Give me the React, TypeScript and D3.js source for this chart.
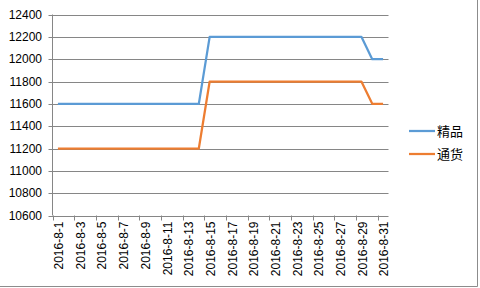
import React from "react";
import * as d3 from "d3";

const dates: string[] = Array.from({ length: 31 }, (_, i) => `2016-8-${i + 1}`);
const seriesNames: string[] = ["精品", "通货"];
const jingpin: number[] = [
  11600, 11600, 11600, 11600, 11600, 11600, 11600, 11600, 11600, 11600,
  11600, 11600, 11600, 11600, 12200, 12200, 12200, 12200, 12200, 12200,
  12200, 12200, 12200, 12200, 12200, 12200, 12200, 12200, 12200, 12000, 12000,
];
const tonghuo: number[] = [
  11200, 11200, 11200, 11200, 11200, 11200, 11200, 11200, 11200, 11200,
  11200, 11200, 11200, 11200, 11800, 11800, 11800, 11800, 11800, 11800,
  11800, 11800, 11800, 11800, 11800, 11800, 11800, 11800, 11800, 11600, 11600,
];
const yTicks: number[] = [10600, 10800, 11000, 11200, 11400, 11600, 11800, 12000, 12200, 12400];
const colors: string[] = ["#5B9BD5", "#ED7D31"];

export default function App() {
  const W = 480, H = 288;
  const left = 52.5, right = 388.5, top = 14.5, bottom = 215.5;
  const x = d3.scaleBand<string>().domain(dates).range([left, right]).paddingInner(0).paddingOuter(0);
  const y = d3.scaleLinear().domain([10600, 12400]).range([bottom, top]);
  const bw = x.bandwidth();
  const cx = (d: string) => (x(d) as number) + bw / 2;
  const line = d3.line<number>().x((_, i) => cx(dates[i])).y((v) => y(v));
  const series = [jingpin, tonghuo];
  const grid = "#868686";
  const font = "'Liberation Sans', Arial, sans-serif";
  const tickIdx = dates.map((_, i) => i).filter((i) => i % 2 === 0);

  return (
    <svg width={W} height={H} style={{ position: "absolute", left: 0, top: 0, background: "#fff" }}>
      <rect x={0} y={0} width={W} height={H} fill="#fff" />
      {/* border */}
      <line x1={477.5} y1={0} x2={477.5} y2={286.5} stroke="#8c8c8c" strokeWidth={1} />
      <line x1={0} y1={286.5} x2={477.5} y2={286.5} stroke="#8c8c8c" strokeWidth={1} />
      {/* gridlines */}
      {yTicks.map((t) => (
        <g key={t}>
          <line x1={left - 4} x2={right} y1={Math.round(y(t)) + 0.5} y2={Math.round(y(t)) + 0.5} stroke={grid} strokeWidth={1} />
          <text x={42} y={y(t)} dy="0.35em" textAnchor="end" fontSize={12} fontFamily={font} fill="#000">
            {t}
          </text>
        </g>
      ))}
      {/* y axis */}
      <line x1={left} x2={left} y1={top} y2={bottom} stroke={grid} strokeWidth={1} />
      {/* x ticks */}
      {tickIdx.map((i) => (
        <line key={i} x1={Math.round(x(dates[i]) as number) + 0.5} x2={Math.round(x(dates[i]) as number) + 0.5} y1={bottom} y2={bottom + 5} stroke={grid} strokeWidth={1} />
      ))}
      {tickIdx.map((i) => (
        <text
          key={"l" + i}
          transform={`translate(${cx(dates[i]) + 1},${bottom + 6}) rotate(-90)`}
          textAnchor="end"
          dy="0.35em"
          fontSize={12}
          fontFamily={font}
          fill="#000"
        >
          {dates[i]}
        </text>
      ))}
      {/* lines */}
      {series.map((s, k) => (
        <path key={k} d={line(s) as string} fill="none" stroke={colors[k]} strokeWidth={2.25} strokeLinejoin="round" />
      ))}
      {/* legend */}
      {seriesNames.map((n, k) => (
        <g key={n}>
          <line x1={409} x2={435} y1={131 + k * 23} y2={131 + k * 23} stroke={colors[k]} strokeWidth={2.25} />
          <text x={437} y={131 + k * 23} dy="0.38em" fontSize={13} fontFamily="'Noto Sans CJK SC', sans-serif" fill="#000">
            {n}
          </text>
        </g>
      ))}
    </svg>
  );
}
